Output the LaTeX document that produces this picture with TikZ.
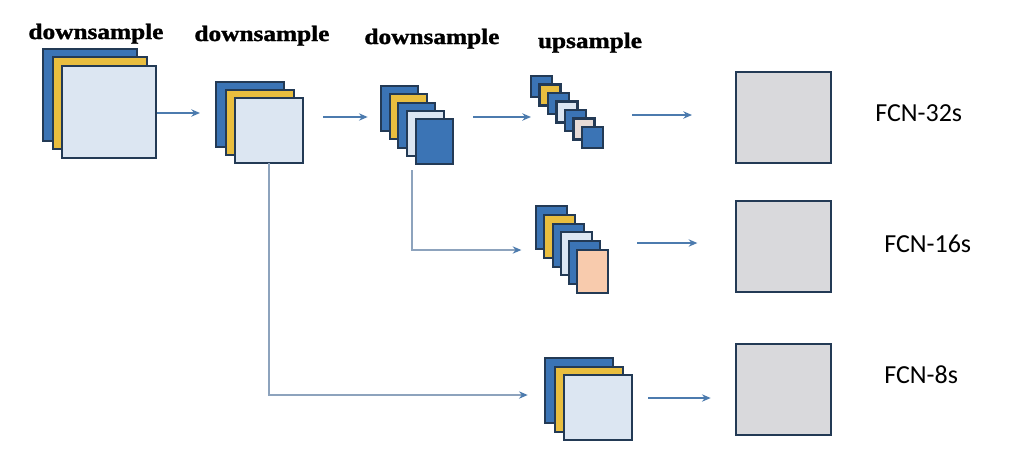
\documentclass[tikz,border=0pt]{standalone}
\usepackage{fontspec}
\setmainfont{Liberation Serif}
\newfontfamily\fcnfont{Carlito}
\newfontfamily\hdrfont[FakeBold=1.3]{Liberation Serif Bold}
\usetikzlibrary{arrows.meta}
\definecolor{edge}{HTML}{233A55}
\definecolor{cblue}{HTML}{3B74B5}
\definecolor{cyel}{HTML}{E9BE3F}
\definecolor{clight}{HTML}{DCE6F2}
\definecolor{cpeach}{HTML}{F8CBAD}
\definecolor{cgray}{HTML}{D9D9DC}
\definecolor{carrow}{HTML}{4C7BAE}
\definecolor{cthin}{HTML}{8DA3BD}
\tikzset{
  lay/.style={draw=edge, inner sep=0pt, outer sep=0pt, anchor=north west},
  thick3/.style={line width=2.2pt},
  thick2/.style={line width=1.6pt},
  lb/.style={lay, fill=cblue},
  ly/.style={lay, fill=cyel},
  ll/.style={lay, fill=clight},
  lp/.style={lay, fill=cpeach},
  lg/.style={lay, fill=cgray, thick3, minimum width=95*0.75pt, minimum height=91*0.75pt},
  bigsz/.style={thick3, minimum width=94*0.75pt, minimum height=92*0.75pt},
  midsz/.style={thick3, minimum width=68*0.75pt, minimum height=65*0.75pt},
  smsz/.style={thick2, minimum width=37*0.75pt, minimum height=45*0.75pt},
  upsz/.style={thick2, minimum width=21*0.75pt, minimum height=21*0.75pt},
  sxsz/.style={thick2, minimum width=31*0.75pt, minimum height=43*0.75pt},
  arr/.style={draw=carrow, line width=1.7pt, -{Stealth[length=6.5pt, width=5.5pt]}},
  thinarr/.style={draw=cthin, line width=1pt, -{Stealth[length=6.5pt, width=5.5pt, color=carrow]}},
  hdr/.style={font=\hdrfont\fontsize{16.5}{18}\selectfont, anchor=base, xscale=1.15, inner sep=0pt},
  fcn/.style={font=\fcnfont\fontsize{19.5}{22}\selectfont, anchor=west, inner sep=0pt},
}
\begin{document}
\begin{tikzpicture}[x=0.75pt, y=-0.75pt]
\useasboundingbox[fill=white] (0,0) rectangle (1012,468);

% headers
\node[hdr] (h1) at (96,39) {downsample};
\node[hdr] (h2) at (262,41) {downsample};
\node[hdr] (h3) at (432,44) {downsample};
\node[hdr] (h4) at (590,48) {upsample};

% block 1
\node[lb, bigsz] (b1a) at (43,49) {};
\node[ly, bigsz] (b1b) at (53,57) {};
\node[ll, bigsz] (b1c) at (62,66) {};

% block 2
\node[lb, midsz] (b2a) at (216,82) {};
\node[ly, midsz] (b2b) at (226,90) {};
\node[ll, midsz] (b2c) at (235,98) {};

% block 3
\node[lb, smsz] (b3a) at (381,86) {};
\node[ly, smsz] (b3b) at (390,94) {};
\node[lb, smsz] (b3c) at (398,103) {};
\node[ll, smsz] (b3d) at (407,111) {};
\node[lb, smsz] (b3e) at (416,119) {};

% upsample chain
\node[lb, upsz] (u1) at (531,76) {};
\node[ly, upsz] (u2) at (539.5,84.5) {};
\node[lb, upsz] (u3) at (548,93) {};
\node[ll, upsz] (u4) at (556.5,101.5) {};
\node[lb, upsz] (u5) at (565,110) {};
\node[lp, upsz, fill=clight!60!cpeach] (u6) at (573.5,118.5) {};
\node[lb, upsz] (u7) at (582,127) {};

% 16s block
\node[lb, sxsz] (s1) at (536,206) {};
\node[ly, sxsz] (s2) at (544,215) {};
\node[lb, sxsz] (s3) at (553,224) {};
\node[ll, sxsz] (s4) at (561,232) {};
\node[lb, sxsz] (s5) at (569,241) {};
\node[lp, sxsz] (s6) at (577,250) {};

% 8s block
\node[lb, midsz] (e1) at (545,358) {};
\node[ly, midsz] (e2) at (555,367) {};
\node[ll, midsz] (e3) at (564,375) {};

% outputs
\node[lg] (o1) at (736,72) {};
\node[lg] (o2) at (736,201) {};
\node[lg] (o3) at (736,344) {};

\node[fcn] (t1) at (875,113) {FCN-32s};
\node[fcn] (t2) at (884,244) {FCN-16s};
\node[fcn] (t3) at (884,375) {FCN-8s};

% arrows
\draw[arr, shorten <=1pt, shorten >=12pt] (b1c.east |- 0,113) -- (b2a.west |- 0,113);
\draw[arr, shorten <=15pt, shorten >=10pt] (b2c.east |- 0,117) -- (b3a.west |- 0,117);
\draw[arr, shorten <=15pt, shorten >=0pt] (b3e.east |- 0,117) -- (u1.west |- 0,117);
\draw[arr, shorten <=22pt, shorten >=33pt] (u7.east |- 0,115) -- (o1.west |- 0,115);
\draw[arr, shorten <=22pt, shorten >=29pt] (s6.east |- 0,243) -- (o2.west |- 0,243);
\draw[arr, shorten <=12pt, shorten >=19pt] (e3.east |- 0,398) -- (o3.west |- 0,398);

% skip connections
\draw[thinarr, shorten >=11pt] (412,0 |- b3e.south) ++(0,6) |- (s1.west |- 0,250);
\draw[thinarr, shorten >=13pt] (269,0 |- b2c.south) |- (e1.west |- 0,395);
\end{tikzpicture}
\end{document}
